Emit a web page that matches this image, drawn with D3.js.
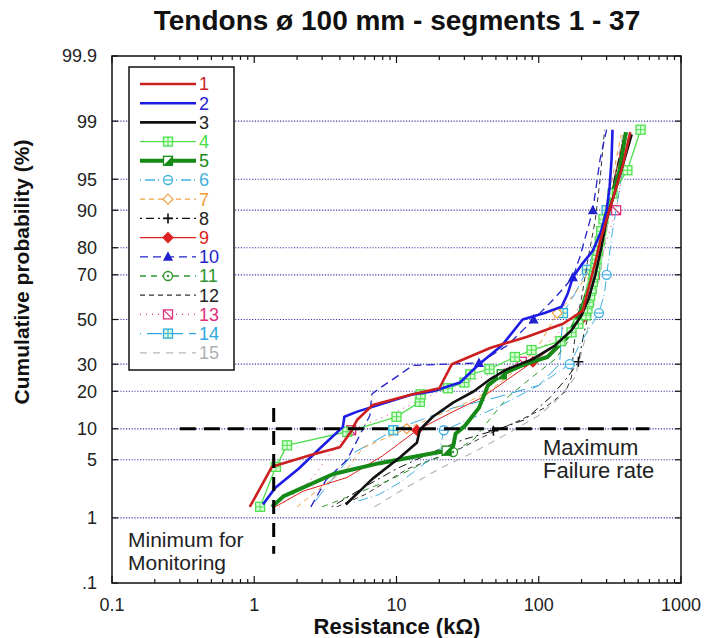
<!doctype html>
<html lang="en">
<head>
<meta charset="utf-8">
<title>Tendons ø 100 mm - segments 1 - 37</title>
<style>
body { margin: 0; background: #fff; font-family: "Liberation Sans", Arial, Helvetica, sans-serif; }
</style>
</head>
<body>
<div id="chart"></div>
<script src="https://cdn.jsdelivr.net/npm/d3@7"></script>
<script>
// each series: [resistance (kOhm), cumulative probability (%)]
var s1 = [[0.93,1.4],[1.33,4.2],[2.5,5.6],[4,6.7],[4.7,9.1],[5.3,12],[6.8,15.8],[13,19],[20,21],[24.5,30],[46,37],[83,42],[148,48],[204,54],[215,60],[230,67],[250,75],[270,82],[300,88],[340,93],[390,96.5],[440,98.6]];
var s2 = [[1.15,1.5],[1.4,2.4],[2.05,4],[2.95,6.7],[4.2,10.4],[4.3,12.7],[5.3,14],[13,19],[18,20],[28,23],[38,30],[55,38],[77,50],[110,53],[145,56],[160,62],[174,69],[200,74],[240,79],[275,85],[300,90],[315,94],[325,97],[330,98.7]];
var s3 = [[4.4,1.5],[6.8,3.1],[10.6,5.3],[13.9,7.4],[14.6,9.8],[18,12.7],[25,16.5],[35,20],[45,24],[60,28],[90,32],[130,38],[170,45],[200,52],[225,60],[250,70],[275,80],[300,88],[340,93],[390,96.5],[450,98.5]];
var s4 = [[1.1,1.4],[1.42,4.2],[1.7,7],[4.5,9.4],[10,12.7],[14.6,16.7],[14.8,19],[23,21],[30,23],[33,26],[45,28],[68,33],[89,36],[142,40],[170,44],[190,48],[215,52],[220,55],[225,58],[230,61],[235,64],[240,67],[245,70],[250,73],[255,76],[260,79],[268,82],[275,85],[285,88],[330,93],[420,96],[520,98.7]];
var s5 = [[1.33,1.4],[1.6,1.9],[3.6,3.5],[7.6,4.6],[14.5,5.5],[22.5,6.2],[25,6.8],[26,9],[30,10.5],[38,15],[44,22],[55,26],[80,30],[115,33],[160,42],[200,55],[225,65],[250,75],[275,85],[320,92],[370,96],[410,98.6]];
var s6 = [[5,1.6],[7.5,2],[10.6,2.8],[20,6],[21.5,9.7],[50,15],[100,22],[165,30],[200,40],[265,53],[290,62],[300,70],[330,85],[380,95],[430,98.5]];
var s7 = [[2,1.4],[3,2.5],[4.5,4],[5.8,6.6],[11.8,10],[28,15.6],[45,20],[70,28],[100,38],[135,53],[180,62],[230,72],[270,85],[320,94],[380,98.5]];
var s8 = [[3.5,1.4],[6,2.5],[10,4],[18,6],[30,8],[48,9.6],[80,12],[120,18],[160,25],[190,31],[210,45],[240,60],[270,75],[300,88],[340,95],[400,98.5]];
var s9 = [[1.4,1.4],[2.2,2.2],[4.5,3.2],[8,5.5],[13.9,9.7],[25,14],[40,18],[60,24],[91,31],[130,38],[170,44],[200,50],[230,62],[260,75],[300,88],[340,95],[400,98.5]];
var s10 = [[2.5,1.4],[3.2,3],[4.5,5],[6.5,13],[6.7,19],[7.6,21],[10.6,26],[13,29.5],[38,30.5],[60,38],[92,50],[130,60],[174,69],[195,77],[240,90],[270,97],[300,98.7]];
var s11 = [[3,1.4],[5,2],[9,3],[15,4.5],[25,6],[35,8],[45,12],[60,18],[90,25],[130,32],[170,42],[210,55],[250,70],[290,85],[340,95],[410,98.5]];
var s12 = [[3.8,1.4],[6,2],[12,4],[28,6.5],[45,9],[75,12],[110,15],[155,20],[170,25],[175,35],[185,50],[200,60],[220,75],[250,88],[270,95],[290,98.7]];
var s13 = [[1.5,1.4],[2.5,3],[3.5,6],[4.8,9.7],[10,14],[20,20],[40,25],[76,31],[120,40],[170,50],[210,60],[248,70],[290,80],[350,90],[390,96],[430,98.5]];
var s14 = [[2.5,1.4],[3.5,3],[5,5.9],[7.3,7.9],[9.5,9.7],[15,12],[25,15],[50,18],[100,22],[140,30],[148,53],[180,62],[218,72],[260,82],[300,90],[350,96],[420,98.6]];
var s15 = [[7,1.4],[12,2.5],[20,4],[35,6],[60,9],[100,13],[140,18],[180,25],[210,40],[240,55],[270,70],[300,85],[340,95],[390,98.5]];

var seriesNames = ["1","2","3","4","5","6","7","8","9","10","11","12","13","14","15"];
var seriesData = [s1, s2, s3, s4, s5, s6, s7, s8, s9, s10, s11, s12, s13, s14, s15];

var yTicks = [0.1, 1, 5, 10, 20, 30, 50, 70, 80, 90, 95, 99, 99.9];
var yTickLabels = [".1", "1", "5", "10", "20", "30", "50", "70", "80", "90", "95", "99", "99.9"];
var xTicks = [0.1, 1, 10, 100, 1000];
var xTickLabels = ["0.1", "1", "10", "100", "1000"];

var maxFailure = 10;             // %
var maxFailureSpan = [0.3, 600]; // kOhm
var minMonitor = 1.37;           // kOhm
var minMonitorSpan = [0.3, 15];  // %

var styles = [
  {color: "#cc1f1f", width: 2.6},
  {color: "#1c1ce6", width: 2.6},
  {color: "#111111", width: 2.6},
  {color: "#4fe04f", width: 1.3, marker: "sqcross", marks: "all"},
  {color: "#168a16", width: 4, marker: "sqhalf", marks: [5, 11]},
  {color: "#3fb0e0", width: 1, dash: "1,4,10,3", marker: "circline", marks: [4, 7, 9, 11]},
  {color: "#f0a040", width: 1, dash: "5,4", marker: "diamond", marks: [4, 9]},
  {color: "#111111", width: 1, dash: "2,4,8,4", marker: "plus", marks: [5, 9]},
  {color: "#dd2020", width: 1, marker: "diamondfill", marks: [4, 8, 11]},
  {color: "#2222cc", width: 1.3, dash: "8,5", marker: "triangle", marks: [8, 10, 12, 14]},
  {color: "#2e962e", width: 1, dash: "6,5", marker: "circdot", marks: [4]},
  {color: "#333333", width: 1, dash: "5,4"},
  {color: "#e0307a", width: 1, dash: "1,5", marker: "sqdiag", marks: [3, 7, 11, 13]},
  {color: "#30a8e0", width: 1, dash: "1,6,14,0", marker: "sqcross", marks: [4, 10, 12, 14]},
  {color: "#b8b8b8", width: 1.2, dash: "7,6"}
];
var labelColors = ["#cc1f1f", "#2222cc", "#222", "#44dd44", "#1a8a1a", "#3fb0e0", "#f09a30", "#222", "#dd2020", "#2222cc", "#2e962e", "#222", "#e0307a", "#30a8e0", "#b0b0b0"];

// inverse normal CDF (Acklam)
function probit(p) {
  var a = [-3.969683028665376e+01, 2.209460984245205e+02, -2.759285104469687e+02, 1.383577518672690e+02, -3.066479806614716e+01, 2.506628277459239e+00];
  var b = [-5.447609879822406e+01, 1.615858368580409e+02, -1.556989798598866e+02, 6.680131188771972e+01, -1.328068155288572e+01];
  var c = [-7.784894002430293e-03, -3.223964580411365e-01, -2.400758277161838e+00, -2.549732539343734e+00, 4.374664141464968e+00, 2.938163982698783e+00];
  var d = [7.784695709041462e-03, 3.224671290700398e-01, 2.445134137142996e+00, 3.754408661907416e+00];
  var pl = 0.02425, q, r;
  if (p < pl) {
    q = Math.sqrt(-2 * Math.log(p));
    return (((((c[0]*q+c[1])*q+c[2])*q+c[3])*q+c[4])*q+c[5]) / ((((d[0]*q+d[1])*q+d[2])*q+d[3])*q+1);
  }
  if (p > 1 - pl) {
    q = Math.sqrt(-2 * Math.log(1 - p));
    return -(((((c[0]*q+c[1])*q+c[2])*q+c[3])*q+c[4])*q+c[5]) / ((((d[0]*q+d[1])*q+d[2])*q+d[3])*q+1);
  }
  q = p - 0.5; r = q * q;
  return (((((a[0]*r+a[1])*r+a[2])*r+a[3])*r+a[4])*r+a[5])*q / (((((b[0]*r+b[1])*r+b[2])*r+b[3])*r+b[4])*r+1);
}

var width = 704, height = 638;
var pLeft = 112, pRight = 681, pTop = 56, pBottom = 583;

var x = d3.scaleLog().domain([0.1, 1000]).range([pLeft, pRight]);
var zScale = d3.scaleLinear().domain([probit(0.001), probit(0.999)]).range([pBottom, pTop]);
function y(pct) { return zScale(probit(pct / 100)); }

var svg = d3.select("#chart").append("svg")
    .attr("width", width).attr("height", height)
    .style("font-family", '"Liberation Sans", Arial, Helvetica, sans-serif');

svg.append("defs").append("clipPath").attr("id", "plot")
  .append("rect").attr("x", pLeft).attr("y", pTop).attr("width", pRight - pLeft).attr("height", pBottom - pTop);

// grid lines
svg.append("g").selectAll("line")
  .data(yTicks.filter(function(d) { return d > 0.1 && d < 99.9; }))
  .join("line")
    .attr("x1", pLeft).attr("x2", pRight)
    .attr("y1", function(d) { return y(d); }).attr("y2", function(d) { return y(d); })
    .attr("stroke", "#3a3aa8").attr("stroke-width", 1.2)
    .attr("stroke-dasharray", "1.2,1.6");

// axis ticks
var yt = svg.append("g").attr("stroke", "#111").attr("stroke-width", 1.2);
yTicks.forEach(function(d) {
  yt.append("line").attr("x1", pLeft).attr("x2", pLeft + 6).attr("y1", y(d)).attr("y2", y(d));
  yt.append("line").attr("x1", pRight - 6).attr("x2", pRight).attr("y1", y(d)).attr("y2", y(d));
});
var minor = [];
[0.1, 1, 10, 100].forEach(function(dec) {
  for (var k = 1; k <= 9; k++) minor.push(dec * k);
});
minor.push(1000);
var xt = svg.append("g").attr("stroke", "#111").attr("stroke-width", 1.2);
minor.forEach(function(d) {
  var major = xTicks.some(function(t) { return Math.abs(t - d) / t < 1e-6; });
  var len = major ? 7 : 4;
  xt.append("line").attr("x1", x(d)).attr("x2", x(d)).attr("y1", pBottom).attr("y2", pBottom - len);
  xt.append("line").attr("x1", x(d)).attr("x2", x(d)).attr("y1", pTop).attr("y2", pTop + len);
});

// tick labels
svg.append("g").selectAll("text").data(yTicks).join("text")
  .attr("x", 97).attr("y", function(d) { return y(d); })
  .attr("dy", "0.36em").attr("text-anchor", "end")
  .attr("font-size", 18).attr("fill", "#222")
  .text(function(d, i) { return yTickLabels[i]; });
svg.append("g").selectAll("text").data(xTicks).join("text")
  .attr("x", function(d) { return x(d); }).attr("y", 611)
  .attr("text-anchor", "middle")
  .attr("font-size", 18).attr("fill", "#222")
  .text(function(d, i) { return xTickLabels[i]; });

// markers
function marker(g, type, cx, cy, color) {
  var s = 4.5;
  if (type === "sqcross" || type === "sqdiag" || type === "sqhalf") {
    g.append("rect").attr("x", cx - s).attr("y", cy - s).attr("width", 2 * s).attr("height", 2 * s)
      .attr("fill", type === "sqcross" ? "#d8ffd8" : "#fff").attr("stroke", color).attr("stroke-width", 1.3);
    if (type === "sqcross") {
      g.append("path").attr("d", "M" + cx + "," + (cy - s) + "V" + (cy + s) + "M" + (cx - s) + "," + cy + "H" + (cx + s))
        .attr("stroke", color).attr("stroke-width", 1);
    } else if (type === "sqdiag") {
      g.append("path").attr("d", "M" + (cx - s) + "," + (cy - s) + "L" + (cx + s) + "," + (cy + s))
        .attr("stroke", color).attr("stroke-width", 1.2);
    } else {
      g.append("path").attr("d", "M" + (cx - s) + "," + (cy + s) + "L" + (cx + s) + "," + (cy - s) + "V" + (cy + s) + "Z")
        .attr("fill", color);
    }
  } else if (type === "circline" || type === "circdot") {
    g.append("circle").attr("cx", cx).attr("cy", cy).attr("r", s).attr("fill", "#fff")
      .attr("stroke", color).attr("stroke-width", 1.3);
    if (type === "circline") {
      g.append("line").attr("x1", cx - s).attr("x2", cx + s).attr("y1", cy).attr("y2", cy)
        .attr("stroke", color).attr("stroke-width", 1.2);
    } else {
      g.append("circle").attr("cx", cx).attr("cy", cy).attr("r", 1.2).attr("fill", color);
    }
  } else if (type === "diamond" || type === "diamondfill") {
    g.append("path").attr("d", "M" + cx + "," + (cy - 5) + "L" + (cx + 5) + "," + cy + "L" + cx + "," + (cy + 5) + "L" + (cx - 5) + "," + cy + "Z")
      .attr("fill", type === "diamond" ? "#fff" : color).attr("stroke", color).attr("stroke-width", 1.2);
  } else if (type === "triangle") {
    g.append("path").attr("d", "M" + cx + "," + (cy - 5.5) + "L" + (cx + 5) + "," + (cy + 4) + "L" + (cx - 5) + "," + (cy + 4) + "Z")
      .attr("fill", color);
  } else if (type === "plus") {
    g.append("path").attr("d", "M" + cx + "," + (cy - 5) + "V" + (cy + 5) + "M" + (cx - 5) + "," + cy + "H" + (cx + 5))
      .attr("stroke", color).attr("stroke-width", 1.6);
  }
}

var line = d3.line()
  .x(function(d) { return x(d[0]); })
  .y(function(d) { return y(d[1]); });

var plot = svg.append("g").attr("clip-path", "url(#plot)");
for (var i = seriesData.length - 1; i >= 0; i--) {
  var st = styles[i], data = seriesData[i];
  plot.append("path").datum(data)
    .attr("d", line)
    .attr("fill", "none")
    .attr("stroke", st.color)
    .attr("stroke-width", st.width)
    .attr("stroke-dasharray", st.dash || null)
    .attr("stroke-linejoin", "round");
  if (st.marker) {
    var mg = plot.append("g");
    data.forEach(function(d, j) {
      if (st.marks === "all" || st.marks.indexOf(j) >= 0) marker(mg, st.marker, x(d[0]), y(d[1]), st.color);
    });
  }
}

// reference lines
svg.append("line")
  .attr("x1", x(maxFailureSpan[0])).attr("x2", x(maxFailureSpan[1]))
  .attr("y1", y(maxFailure)).attr("y2", y(maxFailure))
  .attr("stroke", "#000").attr("stroke-width", 3).attr("stroke-dasharray", "16,8");
svg.append("line")
  .attr("x1", x(minMonitor)).attr("x2", x(minMonitor))
  .attr("y1", y(minMonitorSpan[1])).attr("y2", y(minMonitorSpan[0]))
  .attr("stroke", "#000").attr("stroke-width", 3).attr("stroke-dasharray", "14,9");

// frame
svg.append("rect").attr("x", pLeft).attr("y", pTop).attr("width", pRight - pLeft).attr("height", pBottom - pTop)
  .attr("fill", "none").attr("stroke", "#111").attr("stroke-width", 1.5);

// legend
var lg = svg.append("g");
lg.append("rect").attr("x", 129).attr("y", 67).attr("width", 105).attr("height", 303)
  .attr("fill", "#fff").attr("stroke", "#111").attr("stroke-width", 1.5);
seriesNames.forEach(function(name, i) {
  var st = styles[i], ly = 84 + i * 19.2;
  lg.append("line").attr("x1", 140).attr("x2", 196).attr("y1", ly).attr("y2", ly)
    .attr("stroke", st.color).attr("stroke-width", Math.max(st.width, 1.3))
    .attr("stroke-dasharray", st.dash || null);
  if (st.marker) marker(lg, st.marker, 168, ly, st.color);
  lg.append("text").attr("x", 199).attr("y", ly).attr("dy", "0.36em")
    .attr("font-size", 18).attr("fill", labelColors[i]).text(name);
});

// annotations
svg.append("text").attr("x", 543).attr("y", 455).attr("font-size", 22).attr("fill", "#222").text("Maximum");
svg.append("text").attr("x", 543).attr("y", 478).attr("font-size", 22).attr("fill", "#222").text("Failure rate");
svg.append("text").attr("x", 128).attr("y", 547).attr("font-size", 21).attr("fill", "#222").text("Minimum for");
svg.append("text").attr("x", 128).attr("y", 570).attr("font-size", 21).attr("fill", "#222").text("Monitoring");

// titles
svg.append("text").attr("x", 397).attr("y", 30).attr("text-anchor", "middle")
  .attr("font-size", 28).attr("font-weight", "bold").attr("fill", "#111")
  .text("Tendons ø 100 mm - segments 1 - 37");
svg.append("text").attr("x", 397).attr("y", 634).attr("text-anchor", "middle")
  .attr("font-size", 22).attr("font-weight", "bold").attr("fill", "#111")
  .text("Resistance (kΩ)");
svg.append("text").attr("transform", "translate(29,272) rotate(-90)").attr("text-anchor", "middle")
  .attr("font-size", 21).attr("font-weight", "bold").attr("fill", "#111")
  .text("Cumulative probability (%)");
</script>
</body>
</html>
